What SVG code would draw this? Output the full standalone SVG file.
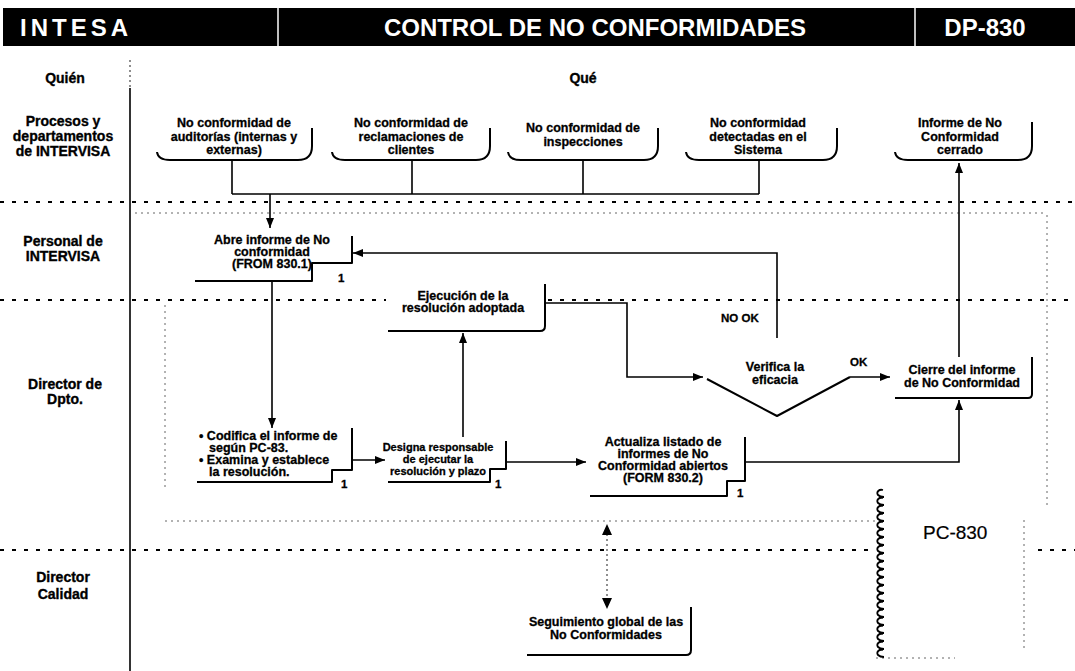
<svg xmlns="http://www.w3.org/2000/svg" width="1075" height="671" viewBox="0 0 1075 671">
  <defs>
    <style>
      .hdr { font: bold 24px "Liberation Sans", Arial, sans-serif; fill: #fff; }
      .lane { font: bold 14px "Liberation Sans", Arial, sans-serif; text-anchor: middle; fill: #000; stroke: #000; stroke-width: 0.35; }
      .t { font: bold 12.5px "Liberation Sans", Arial, sans-serif; text-anchor: middle; fill: #000; stroke: #000; stroke-width: 0.3; }
      .ts { font: bold 11px "Liberation Sans", Arial, sans-serif; text-anchor: middle; fill: #000; stroke: #000; stroke-width: 0.3; }
      .tl { font: bold 12.5px "Liberation Sans", Arial, sans-serif; fill: #000; stroke: #000; stroke-width: 0.3; }
      .lbl { font: bold 11.5px "Liberation Sans", Arial, sans-serif; fill: #000; stroke: #000; stroke-width: 0.3; }
      .pc { font: 19px "Liberation Sans", Arial, sans-serif; fill: #000; stroke: #000; stroke-width: 0.2; }
      .shape { fill: none; stroke: #000; stroke-width: 2; stroke-linejoin: round; }
      .conn { fill: none; stroke: #000; stroke-width: 1.6; }
      .sep { fill: none; stroke: #000; stroke-width: 2.2; stroke-dasharray: 4 8; }
      .faint { fill: none; stroke: #666; stroke-width: 1; stroke-dasharray: 2 4; }
      .dot { fill: none; stroke: #444; stroke-width: 1.2; stroke-dasharray: 2 3; }
    </style>
    <marker id="arr" viewBox="0 0 10 8" markerWidth="10" markerHeight="8" refX="10" refY="4" orient="auto" markerUnits="userSpaceOnUse">
      <path d="M0,0 L10,4 L0,8 z" fill="#000"/>
    </marker>
  </defs>

  <rect width="1075" height="671" fill="#fff"/>

  <!-- title band -->
  <g id="header">
    <rect x="3" y="8" width="1072" height="38" fill="#000"/>
    <line x1="278" y1="8" x2="278" y2="46" stroke="#fff" stroke-width="1.5"/>
    <line x1="915" y1="8" x2="915" y2="46" stroke="#fff" stroke-width="1.5"/>
    <text class="hdr" x="20" y="36" letter-spacing="4">INTESA</text>
    <text class="hdr" x="595" y="36" text-anchor="middle">CONTROL DE NO CONFORMIDADES</text>
    <text class="hdr" x="985" y="36" text-anchor="middle">DP-830</text>
  </g>

  <!-- swimlane grid -->
  <g id="lanes">
    <line x1="130" y1="60" x2="130" y2="88" class="dot"/>
    <line x1="130" y1="88" x2="130" y2="671" stroke="#000" stroke-width="1.6"/>
    <line x1="0" y1="202" x2="1075" y2="202" class="sep"/>
    <line x1="135" y1="213" x2="1045" y2="213" class="faint"/>
    <line x1="0" y1="300" x2="386" y2="300" class="sep"/>
    <line x1="548" y1="300" x2="1075" y2="300" class="sep"/>
    <line x1="165" y1="305" x2="165" y2="490" class="faint"/>
    <line x1="1047" y1="215" x2="1047" y2="505" class="faint"/>
    <line x1="165" y1="521" x2="875" y2="521" class="faint"/>
    <line x1="0" y1="550" x2="872" y2="550" class="sep"/>
    <line x1="1038" y1="550" x2="1075" y2="550" class="sep"/>
    <line x1="1024" y1="520" x2="1024" y2="650" class="faint"/>
    <line x1="876" y1="658" x2="955" y2="658" class="faint"/>
  </g>

  <!-- lane titles -->
  <g id="lane-labels">
    <text class="lane" x="65" y="83">Quién</text>
    <text class="lane" x="583" y="83">Qué</text>
    <text class="lane" x="63" y="126">Procesos y</text>
    <text class="lane" x="63" y="141">departamentos</text>
    <text class="lane" x="63" y="156">de INTERVISA</text>
    <text class="lane" x="63" y="246">Personal de</text>
    <text class="lane" x="63" y="261">INTERVISA</text>
    <text class="lane" x="65" y="389">Director de</text>
    <text class="lane" x="65" y="404">Dpto.</text>
    <text class="lane" x="63" y="582">Director</text>
    <text class="lane" x="63" y="599">Calidad</text>
  </g>

  <!-- inputs -->
  <g id="in-auditorias">
    <path class="shape" d="M157,152 Q158,160 170,160 L298,160 Q312,160 312,146 L312,128"/>
    <text class="t" x="234" y="127">No conformidad de</text>
    <text class="t" x="234" y="141">auditorías (internas y</text>
    <text class="t" x="234" y="154">externas)</text>
  </g>
  <g id="in-reclamaciones">
    <path class="shape" d="M332,152 Q333,160 345,160 L476,160 Q490,160 490,146 L490,128"/>
    <text class="t" x="411" y="127">No conformidad de</text>
    <text class="t" x="411" y="141">reclamaciones de</text>
    <text class="t" x="411" y="154">clientes</text>
  </g>
  <g id="in-inspecciones">
    <path class="shape" d="M508,152 Q509,160 521,160 L644,160 Q658,160 658,146 L658,128"/>
    <text class="t" x="583" y="132">No conformidad de</text>
    <text class="t" x="583" y="146">inspecciones</text>
  </g>
  <g id="in-sistema">
    <path class="shape" d="M686,152 Q687,160 699,160 L823,160 Q837,160 837,146 L837,128"/>
    <text class="t" x="758" y="127">No conformidad</text>
    <text class="t" x="758" y="141">detectadas en el</text>
    <text class="t" x="758" y="154">Sistema</text>
  </g>
  <g id="out-cerrado">
    <path class="shape" d="M895,152 Q896,160 908,160 L1018,160 Q1032,160 1032,146 L1032,122"/>
    <text class="t" x="960" y="127">Informe de No</text>
    <text class="t" x="960" y="141">Conformidad</text>
    <text class="t" x="960" y="154">cerrado</text>
  </g>

  <!-- process steps -->
  <g id="abre">
    <path class="shape" d="M195,281 H312 V263 H352 V236"/>
    <text class="t" x="272" y="244">Abre informe de No</text>
    <text class="t" x="272" y="256">conformidad</text>
    <text class="t" x="272" y="268">(FROM 830.1)</text>
    <text class="lbl" x="338" y="282">1</text>
  </g>
  <g id="codifica">
    <path class="shape" d="M197,482 H332 V470 H352 V428"/>
    <text class="tl" x="199" y="440">• Codifica el informe de</text>
    <text class="tl" x="209" y="452">según PC-83.</text>
    <text class="tl" x="199" y="464">• Examina y establece</text>
    <text class="tl" x="209" y="476">la resolución.</text>
    <text class="lbl" x="341" y="488">1</text>
  </g>
  <g id="designa">
    <path class="shape" d="M388,482 H490 V469 H506 V441"/>
    <text class="ts" x="438" y="451">Designa responsable</text>
    <text class="ts" x="438" y="463">de ejecutar la</text>
    <text class="ts" x="438" y="475">resolución y plazo</text>
    <text class="lbl" x="495" y="488">1</text>
  </g>
  <g id="actualiza">
    <path class="shape" d="M590,496 H727 V481 H745 V437"/>
    <text class="t" x="663" y="446">Actualiza listado de</text>
    <text class="t" x="663" y="458">informes de No</text>
    <text class="t" x="663" y="470">Conformidad abiertos</text>
    <text class="t" x="663" y="482">(FORM 830.2)</text>
    <text class="lbl" x="737" y="497">1</text>
  </g>
  <g id="ejecucion">
    <path class="shape" d="M388,331 H540 Q545,331 545,326 V284"/>
    <text class="t" x="463" y="300">Ejecución de la</text>
    <text class="t" x="463" y="312">resolución adoptada</text>
  </g>
  <g id="verifica">
    <path class="shape" d="M707,379 L777,416 L850,377"/>
    <text class="t" x="775" y="371">Verifica la</text>
    <text class="t" x="775" y="384">eficacia</text>
  </g>
  <g id="cierre">
    <path class="shape" d="M895,398 H1028 Q1032,398 1032,394 V357"/>
    <text class="t" x="962" y="374">Cierre del informe</text>
    <text class="t" x="962" y="387">de No Conformidad</text>
  </g>
  <g id="seguimiento">
    <path class="shape" d="M527,655 H686 Q691,655 691,650 V607"/>
    <text class="t" x="606" y="626">Seguimiento global de las</text>
    <text class="t" x="606" y="639">No Conformidades</text>
  </g>

  <!-- procedure reference -->
  <g id="pc-830">
    <path fill="none" stroke="#000" stroke-width="1.8" d="M883,490 c-4,-1 -7,2 -5,5 c1,1 4,2 6,2 M883,498 c-4,-1 -7,2 -5,5 c1,1 4,2 6,2 M883,506 c-4,-1 -7,2 -5,5 c1,1 4,2 6,2 M883,514 c-4,-1 -7,2 -5,5 c1,1 4,2 6,2 M883,522 c-4,-1 -7,2 -5,5 c1,1 4,2 6,2 M883,530 c-4,-1 -7,2 -5,5 c1,1 4,2 6,2 M883,538 c-4,-1 -7,2 -5,5 c1,1 4,2 6,2 M883,546 c-4,-1 -7,2 -5,5 c1,1 4,2 6,2 M883,554 c-4,-1 -7,2 -5,5 c1,1 4,2 6,2 M883,562 c-4,-1 -7,2 -5,5 c1,1 4,2 6,2 M883,570 c-4,-1 -7,2 -5,5 c1,1 4,2 6,2 M883,578 c-4,-1 -7,2 -5,5 c1,1 4,2 6,2 M883,586 c-4,-1 -7,2 -5,5 c1,1 4,2 6,2 M883,594 c-4,-1 -7,2 -5,5 c1,1 4,2 6,2 M883,602 c-4,-1 -7,2 -5,5 c1,1 4,2 6,2 M883,610 c-4,-1 -7,2 -5,5 c1,1 4,2 6,2 M883,618 c-4,-1 -7,2 -5,5 c1,1 4,2 6,2 M883,626 c-4,-1 -7,2 -5,5 c1,1 4,2 6,2 M883,634 c-4,-1 -7,2 -5,5 c1,1 4,2 6,2 M883,642 c-4,-1 -7,2 -5,5 c1,1 4,2 6,2 M883,650 c-4,-1 -7,2 -5,5 c1,1 4,2 6,2"/>
    <text class="pc" x="923" y="539">PC-830</text>
  </g>

  <!-- connectors -->
  <g id="connectors">
    <path class="conn" d="M232,160 V194 M412,160 V194 M583,160 V194 M759,160 V194 M232,194 H759"/>
    <path class="conn" d="M270,194 V228" marker-end="url(#arr)"/>
    <path class="conn" d="M272,281 V428" marker-end="url(#arr)"/>
    <path class="conn" d="M352,460 H385" marker-end="url(#arr)"/>
    <path class="conn" d="M506,462 H586" marker-end="url(#arr)"/>
    <path class="conn" d="M463,437 V333" marker-end="url(#arr)"/>
    <path class="conn" d="M545,303 H627 V377 H703" marker-end="url(#arr)"/>
    <path class="conn" d="M777,338 V253 H353" marker-end="url(#arr)"/>
    <path class="conn" d="M850,377 H890" marker-end="url(#arr)"/>
    <path class="conn" d="M745,462 H959 V400" marker-end="url(#arr)"/>
    <path class="conn" d="M959,357 V163" marker-end="url(#arr)"/>
    <path class="dot" d="M607,534 V600"/>
    <path d="M602,535 L607,524 L612,535 z M602,598 L607,609 L612,598 z" fill="#000"/>
    <text class="lbl" x="721" y="322">NO OK</text>
    <text class="lbl" x="850" y="366">OK</text>
  </g>
</svg>
